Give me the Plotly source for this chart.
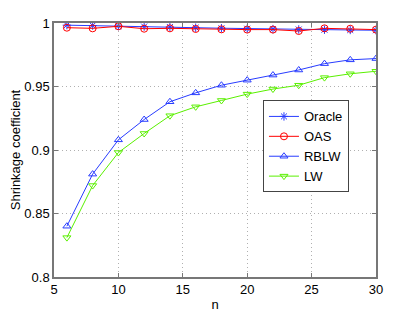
import plotly.graph_objects as go

n = [6, 8, 10, 12, 14, 16, 18, 20, 22, 24, 26, 28, 30]
oracle = [0.9983, 0.9980, 0.9976, 0.9972, 0.9968, 0.9963, 0.9959, 0.9955, 0.9952, 0.9949, 0.9947, 0.9945, 0.9943]
oas = [0.9963, 0.9958, 0.9974, 0.9955, 0.9958, 0.9953, 0.9950, 0.9948, 0.9948, 0.9937, 0.9958, 0.9955, 0.9948]
rblw = [0.840, 0.881, 0.908, 0.924, 0.938, 0.945, 0.951, 0.955, 0.959, 0.963, 0.968, 0.971, 0.972]
lw = [0.831, 0.872, 0.898, 0.913, 0.927, 0.934, 0.939, 0.944, 0.948, 0.951, 0.957, 0.960, 0.962]

series = [
    ("Oracle", oracle, "rgb(40,60,255)", "asterisk-open"),
    ("OAS", oas, "rgb(255,0,0)", "circle-open"),
    ("RBLW", rblw, "rgb(40,60,255)", "triangle-up-open"),
    ("LW", lw, "rgb(90,240,0)", "triangle-down-open"),
]

fig = go.Figure()
for name, vals, col, sym in series:
    fig.add_trace(go.Scatter(
        x=n, y=vals, name=name, mode="lines+markers",
        line=dict(color=col, width=1),
        marker=dict(symbol=sym, size=7, color=col, line=dict(color=col, width=1)),
    ))

axis_common = dict(
    showline=True, linecolor="#777", linewidth=1.5, mirror="ticks",
    ticks="inside", ticklen=4, tickcolor="#777",
    showgrid=True, gridcolor="#b0b0b0", griddash="1px,3px", gridwidth=1,
    zeroline=False, tickfont=dict(size=13, color="black"), automargin=False,
)

# page body adds an 8px offset, so the figure is sized to compensate
fig.update_layout(
    width=407, height=305,
    margin=dict(l=46, r=39, t=15, b=36),
    paper_bgcolor="white", plot_bgcolor="white",
    font=dict(family="Liberation Sans, Arial, sans-serif", size=13, color="black"),
    xaxis=dict(range=[5, 30], tickvals=[5, 10, 15, 20, 25, 30],
               title=dict(text="n", standoff=4, font=dict(size=13)), **axis_common),
    yaxis=dict(range=[0.8, 1], tickvals=[0.8, 0.85, 0.9, 0.95, 1],
               ticktext=["0.8", "0.85", "0.9", "0.95", "1"],
               title=dict(text="Shrinkage coefficient", standoff=10, font=dict(size=13)), **axis_common),
    legend=dict(x=0.649, y=0.695, xanchor="left", yanchor="top",
                bgcolor="white", bordercolor="#444", borderwidth=1,
                font=dict(size=13), tracegroupgap=0, itemwidth=30),
    showlegend=True,
)

fig.write_html("out.html")
